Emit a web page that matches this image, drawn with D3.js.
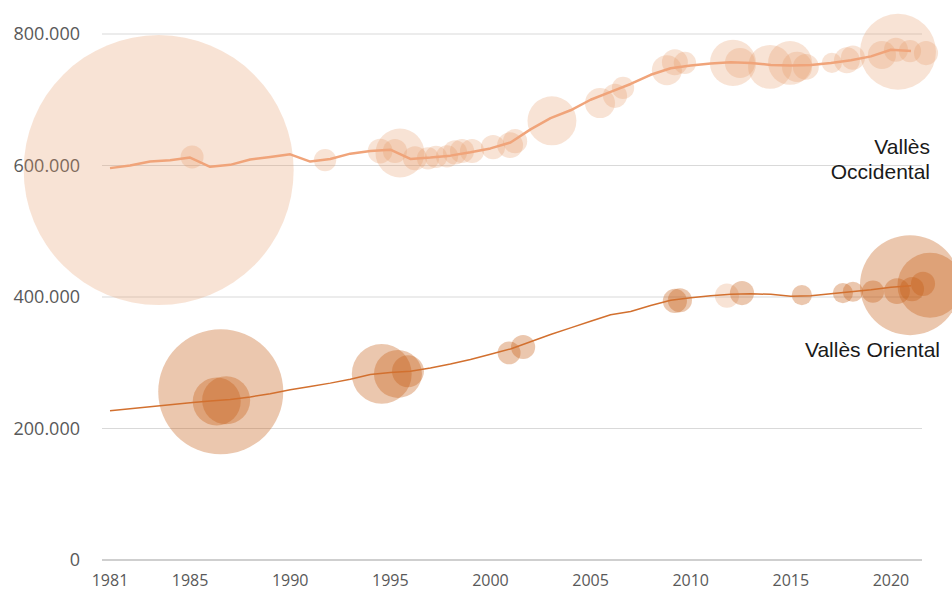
<!DOCTYPE html>
<html>
<head>
<meta charset="utf-8">
<script src="https://cdn.jsdelivr.net/npm/d3@7"></script>
<style>
  body { margin: 0; background: #fff; }
  svg { display: block; }
</style>
</head>
<body>
<svg id="svg" width="952" height="592"></svg>
<script>
// yearly population (line)
var years = [1981,1982,1983,1984,1985,1986,1987,1988,1989,1990,1991,1992,1993,1994,1995,1996,1997,1998,1999,2000,
             2001,2002,2003,2004,2005,2006,2007,2008,2009,2010,2011,2012,2013,2014,2015,2016,2017,2018,2019,2020,2021];
var occidental = [596000,600000,606000,608000,612000,598000,601000,609000,613000,617000,606000,610000,618000,622000,624000,
                  610000,612000,615000,620000,626000,635000,655000,672000,684000,700000,712000,724000,738000,748000,752000,
                  755000,757000,756000,753000,752000,753000,756000,760000,766000,776000,774000];
var oriental = [227000,230000,233000,236000,239000,242000,244000,248000,253000,259000,264000,269000,275000,282000,285000,
                287000,292000,298000,305000,313000,321000,332000,343000,353000,363000,373000,378000,387000,395000,399000,
                402000,404000,405000,404000,401000,402000,405000,408000,411000,415000,417000];

// bubbles: [year, value, size]
var occBubbles = [
  [1983.43,593000,2500],[1985.1,613000,18],[1991.74,608000,17],[1994.49,622000,21],[1995.48,619000,82],
  [1995.23,622000,20],[1996.23,611000,20],[1996.88,611000,17],[1997.28,613000,17],[1997.83,614000,17],
  [1998.23,620000,20],[1998.58,622000,20],[1999.08,622000,20],[2000.13,628000,20],[2000.98,631000,23],
  [2001.23,637000,20],[2003.07,668000,82],[2005.47,695000,31],[2006.22,706000,20],[2006.62,718000,17],
  [2008.81,745000,31],[2009.21,757000,23],[2009.71,756000,17],[2012.11,756000,73],[2012.46,756000,31],
  [2013.96,750000,66],[2014.96,756000,66],[2015.31,750000,31],[2015.75,750000,23],[2017.05,756000,14],
  [2017.8,760000,23],[2018.1,764000,20],[2020.35,773000,198],[2019.55,768000,27],[2020.25,776000,20],
  [2020.95,774000,17],[2021.75,771000,20]
];
var oriBubbles = [
  [1986.53,256000,536],[1986.33,241000,79],[1986.8,243000,79],[1994.57,283000,123],[1995.38,283000,79],
  [1995.88,287000,35],[2000.93,315000,18],[2001.63,324000,20],[2009.21,394000,20],[2009.46,395000,20],
  [2012.56,406000,20],[2015.55,403000,14],[2017.6,406000,14],[2018.1,408000,14],[2019.1,408000,17],
  [2020.3,409000,23],[2020.95,418000,343],[2021.95,418000,145],[2021.05,412000,20],[2021.6,420000,20]
];
var oriFaintBubbles = [[2011.81,402000,20]];

var xTicks = [1981,1985,1990,1995,2000,2005,2010,2015,2020];
var yTicks = [0,200000,400000,600000,800000];
var labels = ["Vallès", "Occidental", "Vallès Oriental"];

var svg = d3.select('#svg');
var x = d3.scaleLinear().domain([1980.6, 2021.55]).range([102, 922]);
var y = d3.scaleLinear().domain([0, 800000]).range([560, 34]);
var r = d3.scaleSqrt().domain([0, 2500]).range([0, 135]);

var fmt = d3.formatLocale({decimal: ",", thousands: ".", grouping: [3], currency: ["", ""]}).format(",");

// gridlines
svg.append('g').selectAll('line')
  .data(yTicks)
  .enter().append('line')
  .attr('x1', x.range()[0]).attr('x2', x.range()[1])
  .attr('y1', d => y(d)).attr('y2', d => y(d))
  .style('stroke', d => d === 0 ? '#bfbfbf' : '#d9d9d9')
  .style('stroke-width', d => d === 0 ? 1.5 : 1);

// y labels
svg.append('g').selectAll('text')
  .data(yTicks)
  .enter().append('text')
  .attr('x', 80).attr('y', d => y(d) + 6)
  .attr('text-anchor', 'end')
  .style('font-family', 'Open Sans, sans-serif')
  .style('font-size', '18px')
  .style('fill', '#595959')
  .text(d => fmt(d));

// x labels
svg.append('g').selectAll('text')
  .data(xTicks)
  .enter().append('text')
  .attr('x', d => x(d)).attr('y', 586)
  .attr('text-anchor', 'middle')
  .style('font-family', 'Open Sans, sans-serif')
  .style('font-size', '16px')
  .style('fill', '#595959')
  .text(d => d);

function bubbles(data, color, op) {
  svg.append('g').selectAll('circle')
    .data(data)
    .enter().append('circle')
    .attr('cx', d => x(d[0]))
    .attr('cy', d => y(d[1]))
    .attr('r', d => r(d[2]))
    .style('fill', color)
    .style('fill-opacity', op);
}

function line(vals, color, w) {
  var l = d3.line()
    .x((d, i) => x(years[i]))
    .y(d => y(d));
  svg.append('path')
    .datum(vals)
    .attr('d', l)
    .style('fill', 'none')
    .style('stroke', color)
    .style('stroke-width', w)
    .style('stroke-linejoin', 'round');
}

bubbles(occBubbles, '#e69664', 0.27);
line(occidental, '#f0a47a', 2.5);
bubbles(oriFaintBubbles, '#e69664', 0.27);
bubbles(oriBubbles, '#c55a11', 0.34);
line(oriental, '#d2702f', 1.5);

// series labels
var lab = svg.append('g')
  .style('font-family', 'Liberation Sans, Arial, sans-serif')
  .style('font-size', '21px')
  .style('fill', '#1a1a1a')
  .attr('text-anchor', 'end');
lab.append('text').attr('x', 930).attr('y', 154).text(labels[0]);
lab.append('text').attr('x', 930).attr('y', 179).text(labels[1]);
lab.append('text').attr('x', 940).attr('y', 357).text(labels[2]);
</script>
</body>
</html>
